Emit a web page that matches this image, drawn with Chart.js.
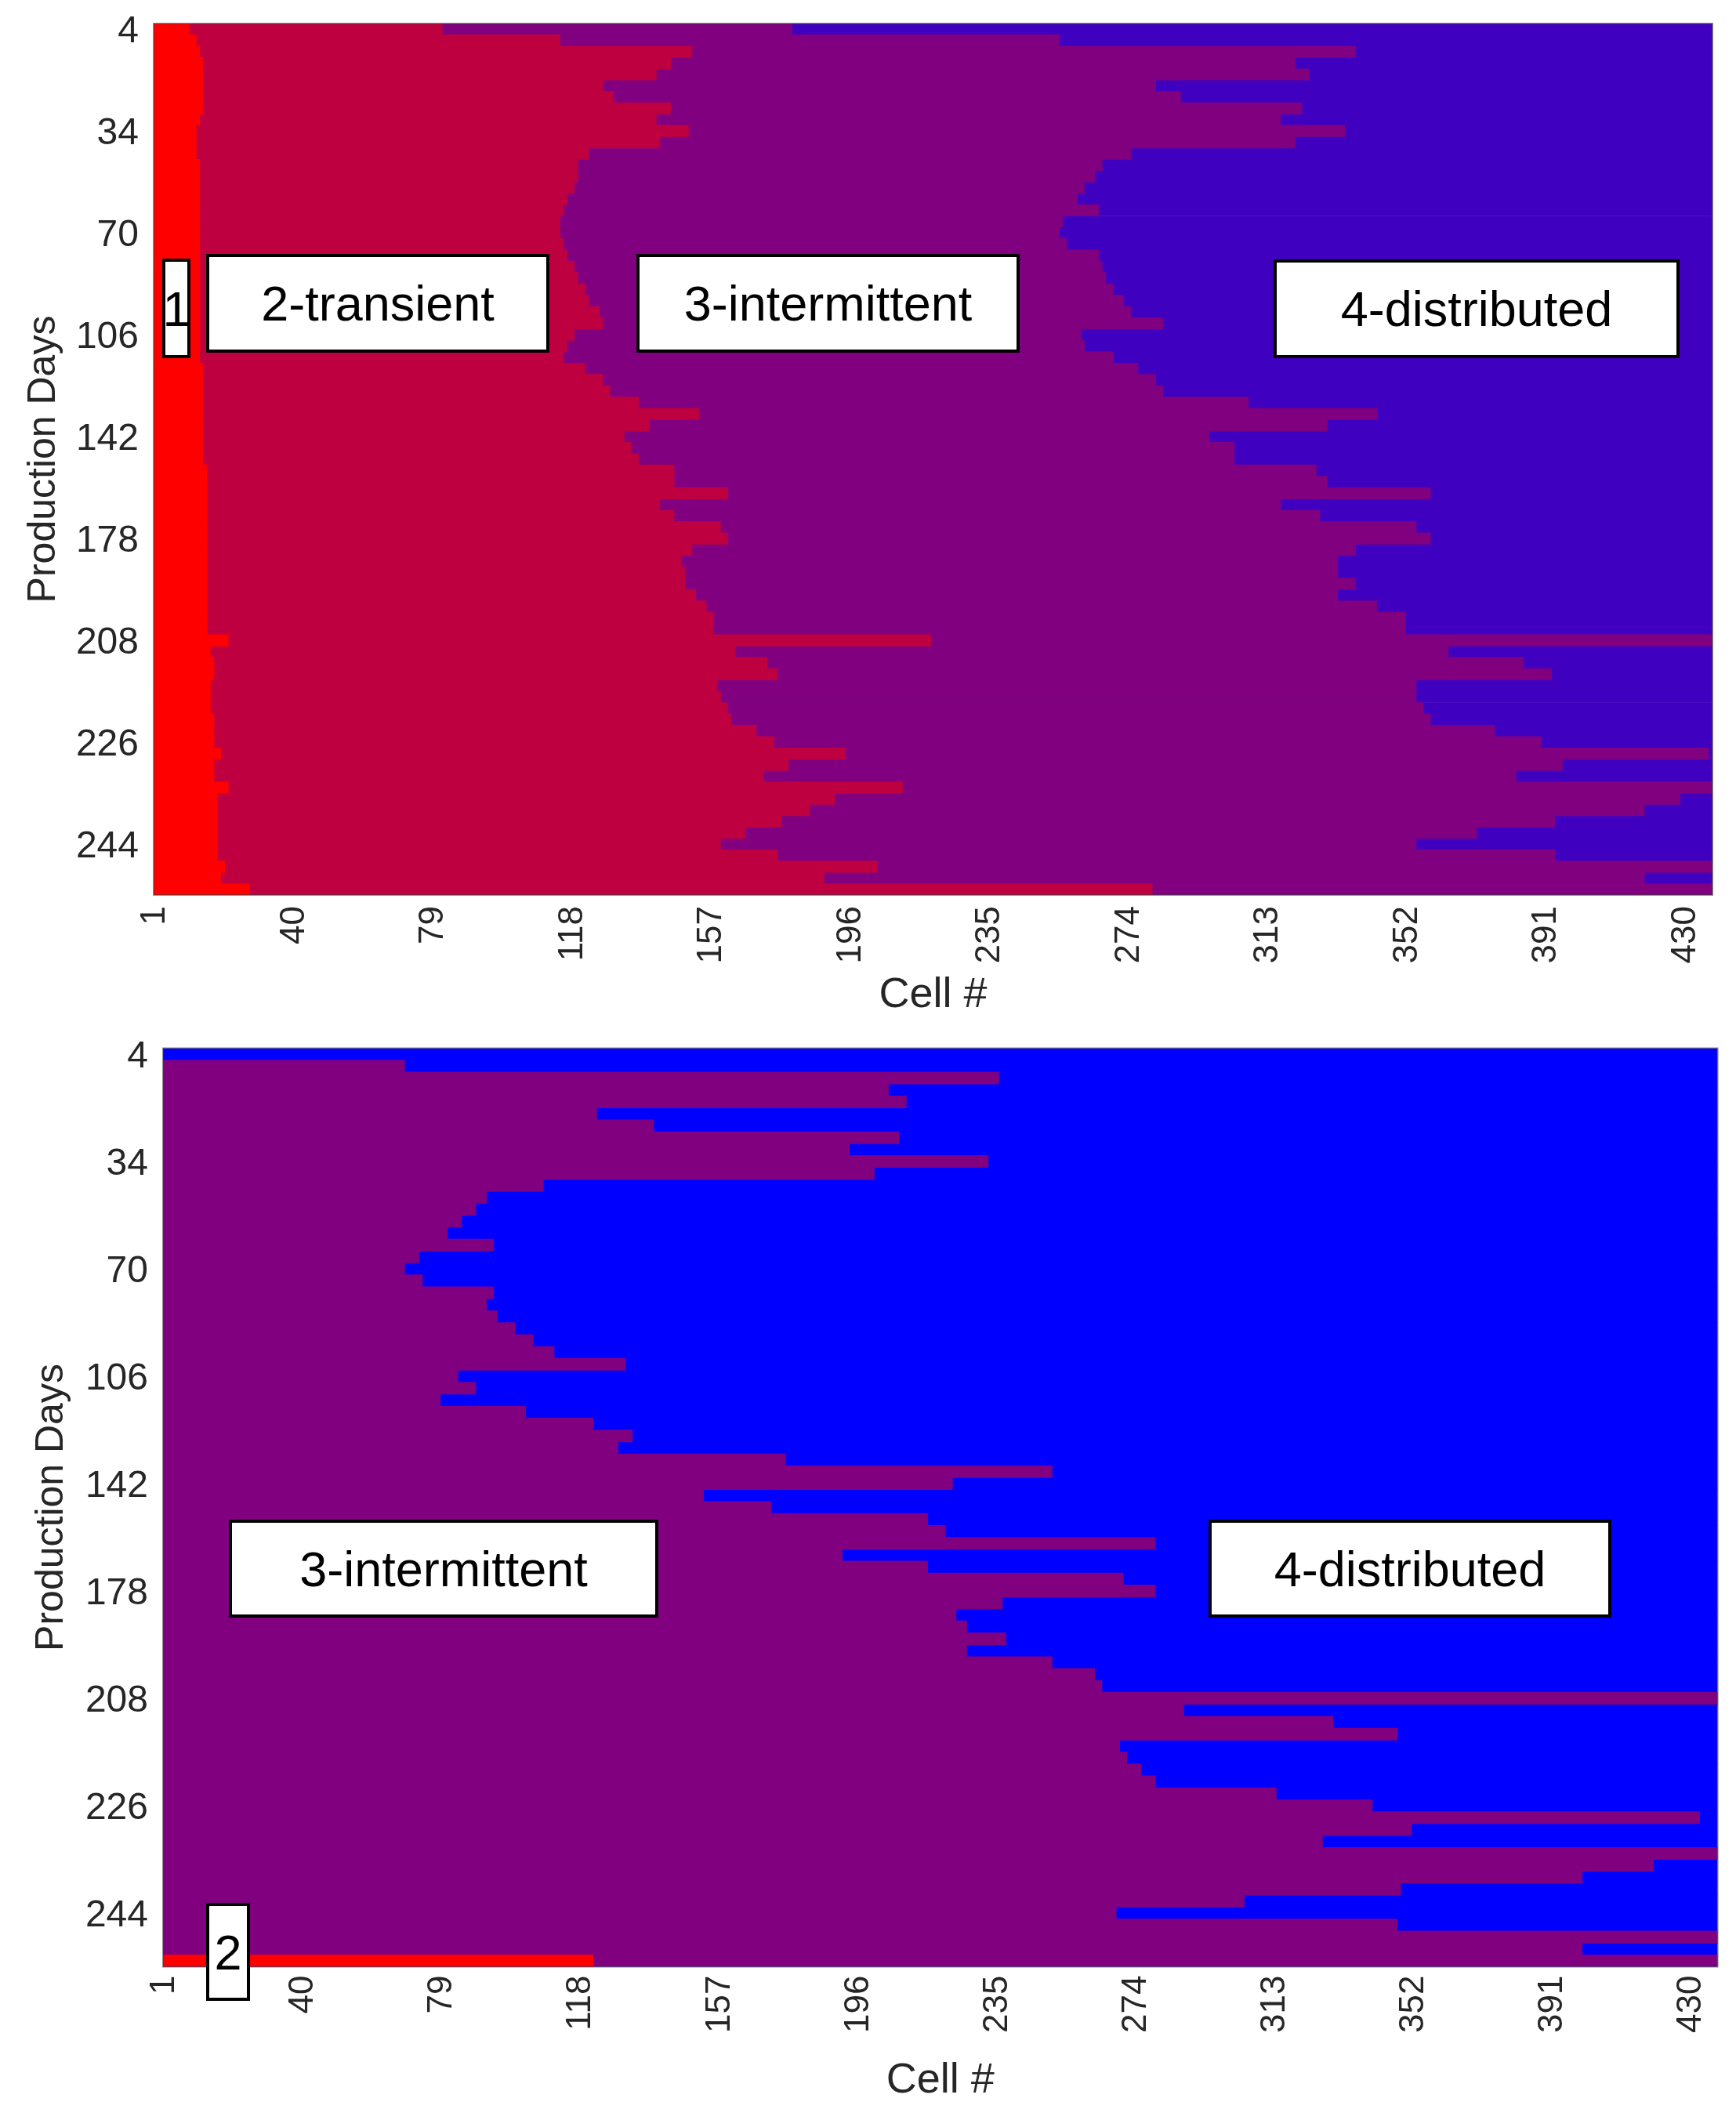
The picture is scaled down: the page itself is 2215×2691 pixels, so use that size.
<!DOCTYPE html>
<html>
<head>
<meta charset="utf-8">
<script src="https://cdn.jsdelivr.net/npm/chart.js@4.4.1/dist/chart.umd.min.js"></script>
<style>
  body { margin: 0; background: #ffffff; width: 2215px; height: 2691px; position: relative; overflow: hidden; }
  canvas { position: absolute; left: 0; }
  .caja {
    position: absolute;
    box-sizing: border-box;
    background: #ffffff;
    border: 4px solid #000000;
    display: flex;
    align-items: center;
    justify-content: center;
    font-family: "Liberation Sans", Arial, sans-serif;
    font-size: 63px;
    color: #000000;
    white-space: nowrap;
  }
</style>
</head>
<body>
<canvas id="grafico-arriba" width="2215" height="1320" style="top:0px"></canvas>
<canvas id="grafico-abajo" width="2215" height="1371" style="top:1320px"></canvas>

<div class="caja" style="left:207px;top:330px;width:36px;height:127px;">1</div>
<div class="caja" style="left:263px;top:324px;width:438px;height:126px;">2-transient</div>
<div class="caja" style="left:812px;top:324px;width:489px;height:126px;">3-intermittent</div>
<div class="caja" style="left:1625px;top:331px;width:518px;height:126px;">4-distributed</div>
<div class="caja" style="left:292px;top:1939px;width:548px;height:125px;">3-intermittent</div>
<div class="caja" style="left:1542px;top:1939px;width:514px;height:125px;">4-distributed</div>
<div class="caja" style="left:263px;top:2428px;width:56px;height:125px;">2</div>

<script>
// etiquetas de los ejes
const dayTicks = [4, 34, 70, 106, 142, 178, 208, 226, 244];
const cellTicks = [1, 40, 79, 118, 157, 196, 235, 274, 313, 352, 391, 430];
const cellCount = 437;

// panel de arriba: ultima celda de cada regimen por fila (dia de produccion)
const topRedEnd = [
  10, 12, 13, 14, 14, 14, 14, 14, 13, 12,
  12, 12, 13, 13, 13, 13, 13, 13, 13, 13,
  13, 13, 13, 13, 13, 13, 13, 13, 13, 13,
  14, 14, 14, 14, 14, 14, 14, 14, 14, 15,
  15, 15, 15, 15, 15, 15, 15, 15, 15, 15,
  15, 15, 15, 15, 21, 16, 17, 17, 16, 16,
  16, 17, 17, 17, 19, 17, 17, 21, 18, 18,
  18, 18, 18, 18, 20, 19, 27
];
const topTransEnd = [
  81, 114, 151, 145, 141, 126, 129, 145, 141, 150,
  142, 122, 119, 119, 118, 116, 115, 114, 114, 115,
  116, 118, 119, 121, 122, 125, 126, 118, 116, 115,
  121, 126, 128, 136, 153, 139, 132, 134, 136, 146,
  146, 161, 142, 146, 159, 161, 151, 148, 149, 149,
  152, 155, 157, 157, 218, 163, 172, 175, 158, 159,
  161, 162, 169, 174, 194, 178, 171, 210, 191, 184,
  176, 166, 159, 175, 203, 188, 280
];
const topInterEnd = [
  179, 254, 337, 320, 324, 281, 288, 322, 316, 334,
  320, 274, 266, 264, 261, 259, 265, 255, 254, 256,
  265, 266, 267, 269, 272, 274, 283, 260, 261, 269,
  276, 281, 283, 307, 343, 329, 296, 303, 303, 326,
  329, 358, 316, 327, 354, 358, 337, 332, 332, 337,
  332, 343, 351, 351, 437, 363, 384, 392, 354, 354,
  356, 358, 376, 389, 436, 395, 382, 437, 428, 418,
  393, 371, 354, 393, 437, 418, 437
];

// panel de abajo
const bottomRedEnd = [
  0, 0, 0, 0, 0, 0, 0, 0, 0, 0,
  0, 0, 0, 0, 0, 0, 0, 0, 0, 0,
  0, 0, 0, 0, 0, 0, 0, 0, 0, 0,
  0, 0, 0, 0, 0, 0, 0, 0, 0, 0,
  0, 0, 0, 0, 0, 0, 0, 0, 0, 0,
  0, 0, 0, 0, 0, 0, 0, 0, 0, 0,
  0, 0, 0, 0, 0, 0, 0, 0, 0, 0,
  0, 0, 0, 0, 0, 0, 121
];
const bottomInterEnd = [
  0, 68, 235, 204, 209, 122, 138, 207, 193, 232,
  200, 107, 91, 88, 84, 80, 93, 72, 68, 73,
  93, 91, 94, 99, 104, 110, 130, 83, 88, 78,
  102, 121, 132, 128, 175, 250, 222, 152, 171, 215,
  220, 279, 191, 215, 270, 279, 236, 223, 226, 237,
  226, 250, 262, 264, 437, 287, 329, 347, 269, 271,
  275, 279, 313, 340, 432, 351, 326, 437, 419, 399,
  348, 304, 268, 347, 437, 399, 437
];

const rows = topRedEnd.map((_, i) => i + 1);

const fuente = "'Liberation Sans', Arial, Helvetica, sans-serif";
const gris = "#262626";

// cada barra va desde la primera celda hasta la ultima del regimen; la de arriba tapa a la de abajo
function tramo(ends) {
  return ends.map((e) => (e > 0 ? [0.5, e + 0.5] : null));
}

function serie(label, ends, color) {
  return {
    label: label,
    data: tramo(ends),
    backgroundColor: color,
    borderWidth: 0,
    grouped: false,
    barPercentage: 1.05,
    categoryPercentage: 1,
  };
}

const marco = {
  id: "marco",
  afterDatasetsDraw(chart) {
    const ctx = chart.ctx;
    const a = chart.chartArea;
    ctx.save();
    ctx.strokeStyle = "rgba(60,60,60,0.55)";
    ctx.lineWidth = 2;
    ctx.strokeRect(a.left, a.top, a.right - a.left, a.bottom - a.top);
    ctx.restore();
  },
};

function crearPanel(canvasId, datasets, medidas) {
  const config = {
    type: "bar",
    data: { labels: rows, datasets: datasets },
    options: {
      indexAxis: "y",
      responsive: false,
      animation: false,
      events: [],
      layout: { padding: { top: medidas.top, right: medidas.right, left: 0, bottom: 0 } },
      plugins: { legend: { display: false }, tooltip: { enabled: false } },
      scales: {
        x: {
          type: "linear",
          min: 0.5,
          max: cellCount + 0.5,
          afterBuildTicks: (axis) => {
            axis.ticks = cellTicks.map((v) => ({ value: v }));
          },
          afterFit: (axis) => {
            axis.height = medidas.xHeight;
            axis.paddingLeft = 0;
            axis.paddingRight = 0;
          },
          grid: { display: false, drawTicks: false },
          border: { display: false },
          ticks: {
            autoSkip: false,
            minRotation: 90,
            maxRotation: 90,
            padding: medidas.xPad,
            color: gris,
            font: { family: fuente, size: 44 },
          },
          title: {
            display: true,
            text: "Cell #",
            color: gris,
            font: { family: fuente, size: 54 },
            padding: { top: 0, bottom: medidas.xTitlePad },
          },
        },
        y: {
          type: "category",
          afterFit: (axis) => {
            axis.width = medidas.yWidth;
            // que las etiquetas no empujen el area del grafico
            axis.paddingTop = 0;
            axis.paddingBottom = 0;
          },
          grid: { display: false, drawTicks: false },
          border: { display: false },
          ticks: {
            autoSkip: false,
            padding: 19,
            labelOffset: 4,
            color: gris,
            font: { family: fuente, size: 48 },
            callback: (value, index) => (index % 9 === 0 ? dayTicks[index / 9] : ""),
          },
          title: {
            display: true,
            text: "Production Days",
            color: gris,
            font: { family: fuente, size: 50 },
            padding: { top: medidas.yTitlePad, bottom: 0 },
          },
        },
      },
    },
    plugins: [marco],
  };
  return new Chart(document.getElementById(canvasId), config);
}

const todo = rows.map(() => cellCount);

crearPanel(
  "grafico-arriba",
  [
    serie("1", topRedEnd, "rgb(255,0,0)"),
    serie("2", topTransEnd, "rgb(191,0,64)"),
    serie("3", topInterEnd, "rgb(128,0,128)"),
    serie("4", todo, "rgb(64,0,191)"),
  ],
  { top: 30, right: 30, yWidth: 196, xHeight: 178, xPad: 14, xTitlePad: 17, yTitlePad: 26 }
);

crearPanel(
  "grafico-abajo",
  [
    serie("2", bottomRedEnd, "rgb(255,0,0)"),
    serie("3", bottomInterEnd, "rgb(128,0,128)"),
    serie("4", todo, "rgb(0,0,255)"),
  ],
  { top: 17.5, right: 23.4, yWidth: 208, xHeight: 181.5, xPad: 11, xTitlePad: 3, yTitlePad: 36 }
);
</script>
</body>
</html>
